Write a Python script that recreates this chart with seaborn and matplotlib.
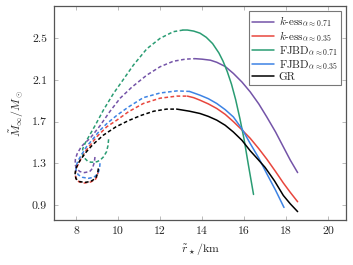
import numpy as np
import pandas as pd
import matplotlib
matplotlib.use("Agg")
import matplotlib.pyplot as plt
import seaborn as sns

# ---- data (radius in km, mass in solar masses) ----
labels = [r"$k$-ess$_{\alpha\approx 0.71}$", r"$k$-ess$_{\alpha\approx 0.35}$",
          r"FJBD$_{\alpha\approx 0.71}$", r"FJBD$_{\alpha\approx 0.35}$", "GR"]
colors = ["#7454a8", "#e8463d", "#2a9c73", "#3d83e4", "#000000"]

kess71_r_unst = [8.9, 8.87, 8.78, 8.65, 8.4, 8.18, 8.02, 7.95, 7.97, 8.05, 8.25, 8.45, 8.67, 9.14, 9.62, 10.1, 10.65, 11.37, 12.0, 12.63, 13.2, 13.65]
kess71_m_unst = [1.36, 1.31, 1.25, 1.22, 1.21, 1.22, 1.25, 1.29, 1.34, 1.39, 1.46, 1.50, 1.54, 1.66, 1.80, 1.925, 2.03, 2.147, 2.227, 2.28, 2.30, 2.305]
kess71_r_st = [13.65, 14.0, 14.4, 14.7, 15.1, 15.49, 15.9, 16.29, 16.7, 17.08, 17.5, 17.87, 18.2, 18.55]
kess71_m_st = [2.305, 2.30, 2.29, 2.27, 2.23, 2.163, 2.08, 1.986, 1.87, 1.745, 1.60, 1.457, 1.33, 1.21]

kess35_r_unst = [9.06, 9.02, 8.92, 8.7, 8.4, 8.15, 8.0, 7.96, 8.0, 8.1, 8.25, 8.5, 8.98, 9.46, 9.94, 10.49, 11.2, 12.0, 12.8, 13.3]
kess35_m_unst = [1.23, 1.18, 1.145, 1.12, 1.11, 1.12, 1.15, 1.19, 1.24, 1.29, 1.35, 1.43, 1.553, 1.65, 1.714, 1.794, 1.874, 1.925, 1.945, 1.945]
kess35_r_st = [13.3, 13.6, 13.9, 14.3, 14.7, 15.1, 15.49, 15.9, 16.29, 16.7, 17.08, 17.5, 17.87, 18.2, 18.55]
kess35_m_st = [1.945, 1.93, 1.906, 1.87, 1.826, 1.77, 1.70, 1.62, 1.54, 1.44, 1.34, 1.22, 1.11, 1.02, 0.93]

fjbd71_r_unst = [9.55, 9.52, 9.45, 9.3, 9.15, 9.0, 8.85, 8.7, 8.55, 8.4, 8.3, 8.32, 8.45, 8.59, 8.9, 9.3, 9.78, 10.2, 10.73, 11.37, 12.0, 12.63, 13.1]
fjbd71_m_unst = [1.53, 1.47, 1.41, 1.36, 1.33, 1.315, 1.31, 1.31, 1.32, 1.35, 1.39, 1.44, 1.50, 1.55, 1.66, 1.81, 1.97, 2.09, 2.243, 2.40, 2.5, 2.564, 2.58]
fjbd71_r_st = [13.1, 13.3, 13.6, 13.9, 14.2, 14.5, 14.8, 15.0, 15.2, 15.4, 15.6, 15.8, 16.0, 16.2, 16.45]
fjbd71_m_st = [2.58, 2.58, 2.57, 2.55, 2.51, 2.45, 2.36, 2.28, 2.18, 2.06, 1.91, 1.73, 1.53, 1.29, 1.0]

fjbd35_r_unst = [9.14, 9.12, 9.04, 8.85, 8.59, 8.3, 8.1, 8.0, 8.0, 8.08, 8.2, 8.5, 8.82, 9.14, 9.46, 9.94, 10.49, 11.2, 12.0, 12.8, 13.4]
fjbd35_m_unst = [1.30, 1.25, 1.20, 1.165, 1.155, 1.165, 1.19, 1.23, 1.27, 1.32, 1.36, 1.46, 1.537, 1.617, 1.68, 1.76, 1.84, 1.93, 1.975, 1.995, 1.99]
fjbd35_r_st = [13.4, 13.9, 14.3, 14.7, 15.1, 15.49, 15.9, 16.29, 16.7, 17.08, 17.5, 17.9]
fjbd35_m_st = [1.99, 1.954, 1.92, 1.874, 1.815, 1.745, 1.63, 1.49, 1.35, 1.20, 1.04, 0.875]

gr_r_unst = [9.06, 9.03, 8.93, 8.7, 8.4, 8.15, 8.0, 7.95, 7.98, 8.08, 8.2, 8.45, 8.8, 9.3, 9.9, 10.5, 11.1, 11.7, 12.3, 12.8]
gr_m_unst = [1.25, 1.20, 1.155, 1.125, 1.115, 1.125, 1.15, 1.19, 1.24, 1.29, 1.33, 1.40, 1.48, 1.57, 1.65, 1.71, 1.76, 1.80, 1.82, 1.82]
gr_r_st = [12.8, 13.4, 13.9, 14.3, 14.7, 15.1, 15.49, 15.9, 16.29, 16.65, 17.0, 17.45, 17.87, 18.2, 18.55]
gr_m_st = [1.82, 1.80, 1.778, 1.75, 1.714, 1.665, 1.60, 1.52, 1.42, 1.34, 1.26, 1.13, 0.99, 0.91, 0.835]

xticks = [8, 10, 12, 14, 16, 18, 20]
yticks = [0.9, 1.3, 1.7, 2.1, 2.5]

series = [
    (kess71_r_unst, kess71_m_unst, kess71_r_st, kess71_m_st),
    (kess35_r_unst, kess35_m_unst, kess35_r_st, kess35_m_st),
    (fjbd71_r_unst, fjbd71_m_unst, fjbd71_r_st, fjbd71_m_st),
    (fjbd35_r_unst, fjbd35_m_unst, fjbd35_r_st, fjbd35_m_st),
    (gr_r_unst, gr_m_unst, gr_r_st, gr_m_st),
]

# ---- style ----
sns.set_style("white")
plt.rcParams["font.family"] = "serif"
plt.rcParams["font.serif"] = ["cmr10", "DejaVu Serif"]
plt.rcParams["mathtext.fontset"] = "cm"
plt.rcParams["axes.formatter.use_mathtext"] = True

fig = plt.figure(figsize=(3.53, 2.65), dpi=100)
ax = fig.add_axes([0.153, 0.170, 0.827, 0.807])

lw = 1.1
for i in range(5):
    ru, mu, rs, ms = series[i]
    sns.lineplot(x=ru, y=mu, sort=False, estimator=None, ax=ax, color=colors[i],
                 lw=lw, legend=False)
    ax.lines[-1].set_dashes((2.4, 1.6))
    sns.lineplot(x=rs, y=ms, sort=False, estimator=None, ax=ax, color=colors[i],
                 lw=lw, label=labels[i])

ax.set_xlim(6.95, 20.85)
ax.set_ylim(0.755, 2.81)
ax.set_xticks(xticks)
ax.set_yticks(yticks)
ax.set_xticklabels([str(t) for t in xticks])
ax.set_yticklabels([f"{t:.1f}" for t in yticks])
ax.tick_params(direction="in", length=3, width=0.6, color="#b0b0b0", labelsize=8.5,
               top=True, right=True, bottom=True, left=True, pad=5)
for s in ax.spines.values():
    s.set_color("#555555")
    s.set_linewidth(0.9)

ax.set_xlabel(r"$\tilde{r}_\star/\mathrm{km}$", fontsize=8.5, labelpad=3)
ax.set_ylabel(r"$\tilde{M}_\infty/M_\odot$", fontsize=8.5, labelpad=4)

leg = ax.legend(loc="upper right", fontsize=8, frameon=True, fancybox=False,
                handlelength=2.0, handletextpad=0.4, borderpad=0.3,
                labelspacing=0.0, borderaxespad=0.45)
leg.get_frame().set_edgecolor("#555555")
leg.get_frame().set_linewidth(0.8)

fig.savefig("out.png", dpi=100)
